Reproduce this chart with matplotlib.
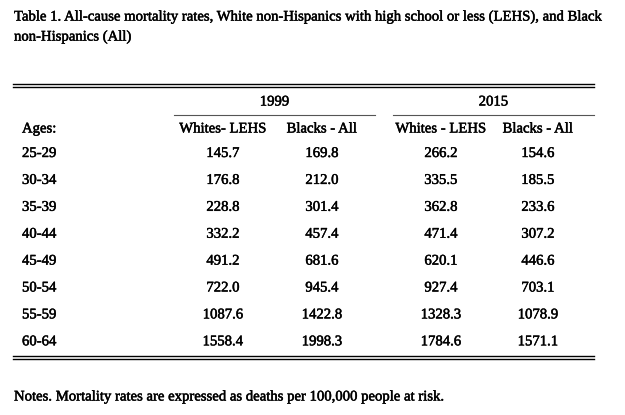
import matplotlib.pyplot as plt
import matplotlib.patheffects as pe

title_lines = ['Table 1. All-cause mortality rates, White non-Hispanics with high school or less (LEHS), and Black',
               'non-Hispanics (All)']
years = ['1999', '2015']
col_labels = ['Whites- LEHS', 'Blacks - All', 'Whites - LEHS', 'Blacks - All']
ages = ['25-29', '30-34', '35-39', '40-44', '45-49', '50-54', '55-59', '60-64']
whites_1999 = [145.7, 176.8, 228.8, 332.2, 491.2, 722.0, 1087.6, 1558.4]
blacks_1999 = [169.8, 212.0, 301.4, 457.4, 681.6, 945.4, 1422.8, 1998.3]
whites_2015 = [266.2, 335.5, 362.8, 471.4, 620.1, 927.4, 1328.3, 1784.6]
blacks_2015 = [154.6, 185.5, 233.6, 307.2, 446.6, 703.1, 1078.9, 1571.1]
note = 'Notes. Mortality rates are expressed as deaths per 100,000 people at risk.'

plt.rcParams['font.family'] = ['Liberation Serif', 'DejaVu Serif']
fs = 10.6
# thicken the thin Times-like glyphs a little
heavy = [pe.withStroke(linewidth=0.35, foreground='black')]

fig = plt.figure(figsize=(6.25, 4.15), dpi=100)
ax = fig.add_axes([0, 0, 1, 1])
ax.set_xlim(0, 625)
ax.set_ylim(415, 0)
ax.axis('off')


def put(x, y, s, ha='center'):
    ax.text(x, y, s, fontsize=fs, ha=ha, va='center', path_effects=heavy)


# title
for i, line in enumerate(title_lines):
    put(14, 17 + i * 20, line, ha='left')

# top double rule
ax.plot([13, 594], [84, 84], color='black', lw=1.0)
ax.plot([13, 594], [87, 87], color='black', lw=1.0)

# year headers, centred over their underline
year_span = [(174, 375), (393, 594)]
for y_lab, (x0, x1) in zip(years, year_span):
    put((x0 + x1) / 2, 102, y_lab)
    ax.plot([x0, x1], [115, 115], color='#555555', lw=0.8)

col_x = [223, 322, 441, 538]
put(22, 129, 'Ages:', ha='left')
for lab, x in zip(col_labels, col_x):
    put(x, 129, lab)

cols = [whites_1999, blacks_1999, whites_2015, blacks_2015]
for r, age in enumerate(ages):
    y = 153.5 + r * 26.9
    put(22, y, age, ha='left')
    for c, x in zip(cols, col_x):
        put(x, y, f'{c[r]:.1f}')

# bottom double rule
ax.plot([13, 594], [356, 356], color='black', lw=1.0)
ax.plot([13, 594], [359, 359], color='black', lw=1.0)

put(14, 397, note, ha='left')

fig.savefig('out.png', dpi=100)
